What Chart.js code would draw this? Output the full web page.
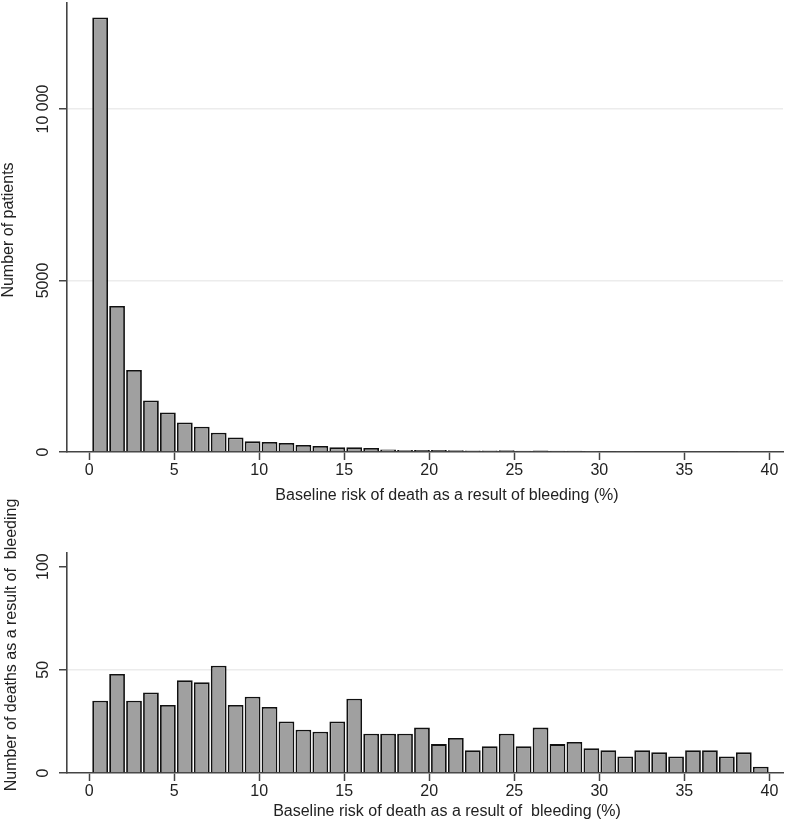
<!DOCTYPE html>
<html>
<head>
<meta charset="utf-8">
<script src="https://cdn.jsdelivr.net/npm/chart.js@4/dist/chart.umd.min.js"></script>
<style>
  body { margin: 0; background: #fff; }
  #wrap { position: relative; width: 787px; height: 830px; }
  .box { position: absolute; left: 0; width: 787px; }
</style>
</head>
<body>
<div id="wrap">
  <div class="box" style="top:0;height:515px"><canvas id="chartPatients"></canvas></div>
  <div class="box" style="top:470px;height:360px"><canvas id="chartDeaths"></canvas></div>
</div>
<script>
// ── datos ──
// 40 clases de riesgo basal (%), de ~0 a 40
const binStart = 0.15;
const binWidth = 0.996;
const xTicks = [0, 5, 10, 15, 20, 25, 30, 35, 40];

const patientCounts = [12670, 4260, 2390, 1500, 1150, 860, 735, 560, 425, 310,
  295, 262, 205, 175, 136, 140, 115, 70, 60, 58,
  55, 50, 45, 45, 48, 38, 42, 35, 33, 30,
  28, 24, 26, 24, 22, 25, 24, 26, 30, 22];
const patientTicks = [0, 5000, 10000];
const patientTickLabels = ['0', '5000', '10 000'];

const deathCounts = [35, 48, 35, 39, 33, 45, 44, 52, 33, 37,
  32, 25, 21, 20, 25, 36, 19, 19, 19, 22,
  14, 17, 11, 13, 19, 13, 22, 14, 15, 12,
  11, 8, 11, 10, 8, 11, 11, 8, 10, 3];
const deathTicks = [0, 50, 100];
const deathTickLabels = ['0', '50', '100'];

const FONT = '"Liberation Sans", Arial, sans-serif';
const TEXT = '#222';

function toPoints(values) {
  return values.map((v, i) => ({ x: binStart + binWidth * (i + 0.5), y: v }));
}

// textos rotados del eje Y y títulos del eje X
const textPlugin = {
  id: 'labels',
  afterDraw(chart, args, opts) {
    const ctx = chart.ctx;
    const y = chart.scales.y;
    ctx.save();
    ctx.fillStyle = TEXT;
    ctx.textAlign = 'center';
    ctx.textBaseline = 'middle';
    ctx.font = '16px ' + FONT;
    opts.ticks.forEach((v, i) => {
      ctx.save();
      ctx.translate(44, y.getPixelForValue(v));
      ctx.rotate(-Math.PI / 2);
      ctx.fillText(opts.tickLabels[i], 0, 0);
      ctx.restore();
    });
    ctx.font = '16px ' + FONT;
    ctx.save();
    ctx.translate(opts.yTitleX, opts.yTitleY);
    ctx.rotate(-Math.PI / 2);
    ctx.fillText(opts.yTitle, 0, 0);
    ctx.restore();
    ctx.fillText(opts.xTitle, opts.xTitleX, opts.xTitleY);
    ctx.restore();
  }
};

function makeChart(id, values, cfg) {
  return new Chart(document.getElementById(id), {
    type: 'bar',
    data: {
      datasets: [{
        data: toPoints(values),
        backgroundColor: '#a0a0a0',
        borderColor: '#111',
        borderWidth: 1.8,
        barPercentage: 0.93,
        categoryPercentage: 1
      }]
    },
    options: {
      responsive: true,
      maintainAspectRatio: false,
      animation: false,
      layout: { padding: { top: cfg.padTop, right: 4, left: 0, bottom: 0 } },
      plugins: {
        legend: { display: false },
        tooltip: { enabled: false },
        labels: cfg.labels
      },
      scales: {
        x: {
          type: 'linear',
          offset: false,
          min: -1.3,
          max: 40.8,
          afterBuildTicks: s => { s.ticks = xTicks.map(v => ({ value: v })); },
          afterFit: s => { s.height = cfg.xHeight; },
          grid: { offset: false, drawOnChartArea: false, tickColor: '#444', tickLength: 8, tickWidth: 1.5 },
          border: { color: '#444', width: 1.6 },
          ticks: { color: TEXT, font: { family: FONT, size: 16 }, padding: 1, maxRotation: 0 }
        },
        y: {
          min: 0,
          max: cfg.yMax,
          afterBuildTicks: s => { s.ticks = cfg.labels.ticks.map(v => ({ value: v })); },
          afterFit: s => { s.width = 67; },
          grid: {
            color: c => cfg.gridAt.includes(c.tick.value) ? '#ececec' : 'rgba(0,0,0,0)',
            lineWidth: 1.5,
            tickColor: '#444',
            tickLength: 8,
            tickWidth: 1.5
          },
          border: { color: '#444', width: 1.6 },
          ticks: { display: false }
        }
      }
    },
    plugins: [textPlugin]
  });
}

// Histograma de pacientes
makeChart('chartPatients', patientCounts, {
  padTop: 3,
  xHeight: 63,
  yMax: 13090,
  gridAt: [5000, 10000],
  labels: {
    ticks: patientTicks,
    tickLabels: patientTickLabels,
    yTitle: 'Number of patients',
    yTitleX: 9, yTitleY: 230,
    xTitle: 'Baseline risk of death as a result of bleeding (%)',
    xTitleX: 447, xTitleY: 496
  }
});

// Histograma de muertes
makeChart('chartDeaths', deathCounts, {
  padTop: 83,
  xHeight: 57,
  yMax: 106.6,
  gridAt: [50],
  labels: {
    ticks: deathTicks,
    tickLabels: deathTickLabels,
    yTitle: 'Number of deaths as a result of  bleeding',
    yTitleX: 12, yTitleY: 175,
    xTitle: 'Baseline risk of death as a result of  bleeding (%)',
    xTitleX: 447, xTitleY: 342
  }
});
</script>
</body>
</html>
